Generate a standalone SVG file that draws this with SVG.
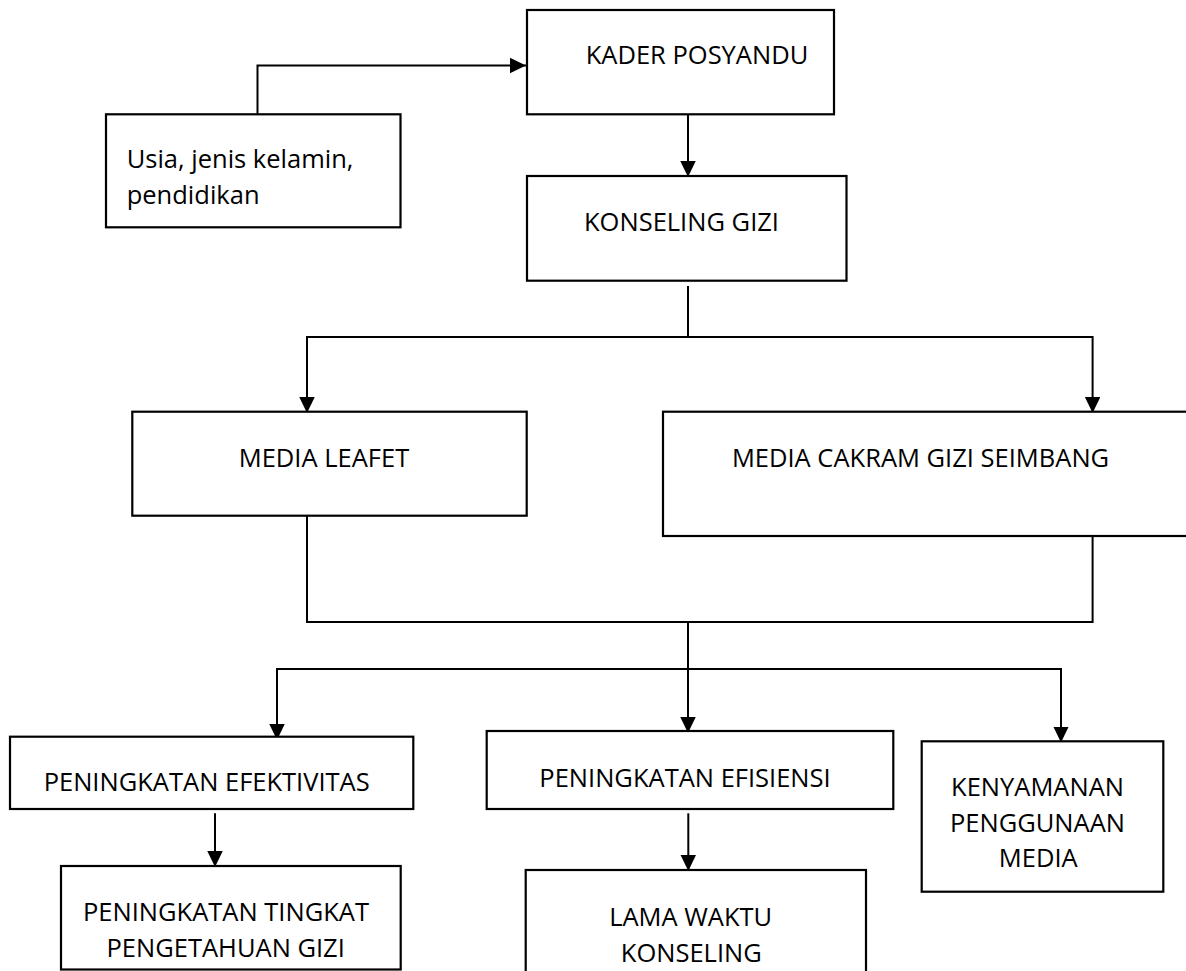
<svg xmlns="http://www.w3.org/2000/svg" width="1186" height="971" viewBox="0 0 1186 971">
<style>
.box{fill:#fff;stroke:#000;stroke-width:2.2}
.ln{fill:none;stroke:#000;stroke-width:2}
.t{font-family:"Open Sans","Liberation Sans",sans-serif;font-size:25.5px;fill:#000}
.c{text-anchor:middle}
</style>
<defs>
<marker id="ah" markerUnits="userSpaceOnUse" markerWidth="17" markerHeight="17" refX="16" refY="7.75" orient="auto">
<path d="M0,0 L16,7.75 L0,15.5 z" fill="#000"/>
</marker>
</defs>
<rect width="1186" height="971" fill="#fff"/>
<g id="connectors">
<path class="ln" d="M257.5,114 V65.5 H526" marker-end="url(#ah)"/>
<path class="ln" d="M688,114 V177" marker-end="url(#ah)"/>
<path class="ln" d="M688,286 V337"/>
<path class="ln" d="M688,337 H307 V413" marker-end="url(#ah)"/>
<path class="ln" d="M688,337 H1092.6 V413" marker-end="url(#ah)"/>
<path class="ln" d="M307,516 V622 H1092.6 V536"/>
<path class="ln" d="M688,622 V733" marker-end="url(#ah)"/>
<path class="ln" d="M688,669 H277 V740" marker-end="url(#ah)"/>
<path class="ln" d="M688,669 H1061 V742.5" marker-end="url(#ah)"/>
<path class="ln" d="M215,813.3 V867" marker-end="url(#ah)"/>
<path class="ln" d="M688.3,813.3 V871" marker-end="url(#ah)"/>
</g>
<g id="kader">
<rect class="box" x="527" y="10" width="307" height="104.3"/>
<text class="t c" x="697" y="64.3">KADER POSYANDU</text>
</g>
<g id="usia">
<rect class="box" x="106" y="114.3" width="294.5" height="113"/>
<text class="t" x="126.7" y="168.3">Usia, jenis kelamin,</text>
<text class="t" x="126.7" y="204.3">pendidikan</text>
</g>
<g id="konseling">
<rect class="box" x="527" y="176" width="319.5" height="104.7"/>
<text class="t c" x="681.5" y="230.7">KONSELING GIZI</text>
</g>
<g id="leafet">
<rect class="box" x="132.3" y="411.7" width="394.4" height="104"/>
<text class="t c" x="324" y="466.7">MEDIA LEAFET</text>
</g>
<g id="cakram">
<rect class="box" x="663" y="411.7" width="530" height="124.3"/>
<text class="t c" x="920.5" y="466.7">MEDIA CAKRAM GIZI SEIMBANG</text>
</g>
<g id="efektivitas">
<rect class="box" x="10" y="736.7" width="403.3" height="72.3"/>
<text class="t c" x="206.7" y="790.7">PENINGKATAN EFEKTIVITAS</text>
</g>
<g id="efisiensi">
<rect class="box" x="486.7" y="731" width="406.6" height="78"/>
<text class="t c" x="685" y="786.7">PENINGKATAN EFISIENSI</text>
</g>
<g id="kenyamanan">
<rect class="box" x="921.7" y="741.3" width="241.6" height="150.4"/>
<text class="t c" x="1037.5" y="796">KENYAMANAN</text>
<text class="t c" x="1037.5" y="831.7">PENGGUNAAN</text>
<text class="t c" x="1038.3" y="867.3">MEDIA</text>
</g>
<g id="tingkat">
<rect class="box" x="61" y="866" width="339.7" height="103.5"/>
<text class="t c" x="226" y="920.7">PENINGKATAN TINGKAT</text>
<text class="t c" x="225.7" y="956.7">PENGETAHUAN GIZI</text>
</g>
<g id="lama">
<rect class="box" x="525.7" y="870" width="340.3" height="110"/>
<text class="t c" x="690.7" y="926">LAMA WAKTU</text>
<text class="t c" x="691.3" y="961.7">KONSELING</text>
</g>
</svg>
